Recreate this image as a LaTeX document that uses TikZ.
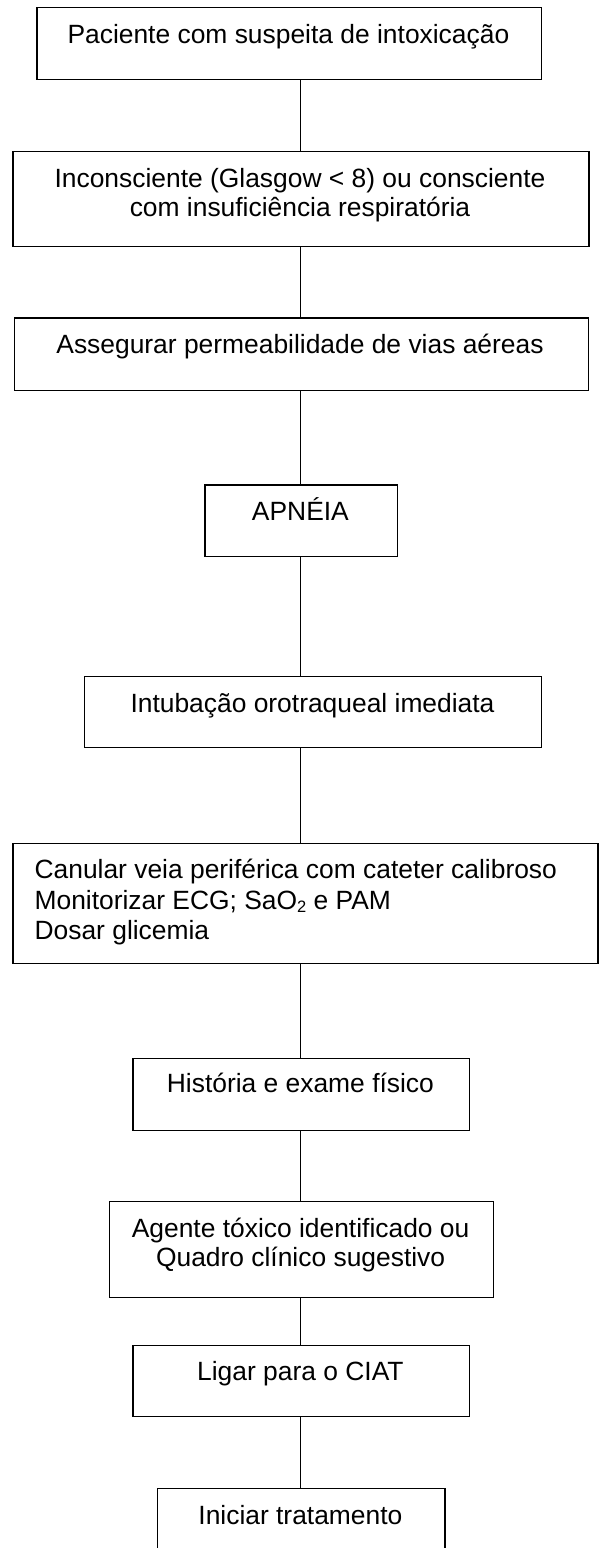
\documentclass[tikz,border=0pt]{standalone}
\usepackage{fontspec}
\setmainfont{Liberation Sans}
\begin{document}
\begin{tikzpicture}[x=1pt,y=-1pt,
  boxst/.style={draw=black, line width=1.3pt, rectangle, inner sep=0pt, anchor=north west},
  txt/.style={inner sep=0pt, anchor=base, font=\fontsize{26.4}{30.4}\selectfont},
  txtl/.style={txt, anchor=base west},
  link/.style={draw=black, line width=1.3pt}]
\useasboundingbox[fill=white] (0,0) rectangle (599,1548);
\coordinate (spine) at (300.6,0);
% boxes
\node[boxst, minimum width=504.2pt, minimum height=72pt]   (b1)  at (36.3,6.7)   {};
\node[boxst, minimum width=575.8pt, minimum height=95.5pt] (b2)  at (12.4,150.5) {};
\node[boxst, minimum width=574pt,   minimum height=72.2pt] (b3)  at (13.5,317.3) {};
\node[boxst, minimum width=192.1pt, minimum height=71.8pt] (b4)  at (204.4,484.3) {};
\node[boxst, minimum width=457pt,   minimum height=70.5pt] (b5)  at (84,676)     {};
\node[boxst, minimum width=585pt,   minimum height=120pt]  (b6)  at (12.3,842.5) {};
\node[boxst, minimum width=336.5pt, minimum height=72pt]   (b7)  at (132.2,1058) {};
\node[boxst, minimum width=384.2pt, minimum height=96pt]   (b8)  at (108.5,1201) {};
\node[boxst, minimum width=336.5pt, minimum height=71pt]   (b9)  at (132.2,1344.5) {};
\node[boxst, minimum width=287.6pt, minimum height=80pt]   (b10) at (156.6,1488) {};
% texts
\node[txt] (t1)  at (288.4,43)   {Paciente com suspeita de intoxicação};
\node[txt] (t2a) at (300,187)    {Inconsciente (Glasgow < 8) ou consciente};
\node[txt] (t2b) at (300,216.5)  {com insuficiência respiratória};
\node[txt] (t3)  at (300,353.5)  {Assegurar permeabilidade de vias aéreas};
\node[txt] (t4)  at (300.4,520.5){APNÉIA};
\node[txt] (t5)  at (312.5,712)  {Intubação orotraqueal imediata};
\node[txtl] (t6a) at (34.4,878.5) {Canular veia periférica com cateter calibroso};
\node[txtl] (t6b) at (34.4,909)   {Monitorizar ECG; SaO\raisebox{-0.12em}{\fontsize{16.5}{18}\selectfont 2} e PAM};
\node[txtl] (t6c) at (34.4,939)   {Dosar glicemia};
\node[txt] (t7)  at (300.4,1092.5) {História e exame físico};
\node[txt] (t8a) at (300.6,1237)   {Agente tóxico identificado ou};
\node[txt] (t8b) at (300.6,1266.5) {Quadro clínico sugestivo};
\node[txt] (t9)  at (300.4,1380)   {Ligar para o CIAT};
\node[txt] (t10) at (300.4,1524)   {Iniciar tratamento};
% connectors
\draw[link] (b1.south -| spine) -- (b2.north -| spine);
\draw[link] (b2.south -| spine) -- (b3.north -| spine);
\draw[link] (b3.south -| spine) -- (b4.north -| spine);
\draw[link] (b4.south -| spine) -- (b5.north -| spine);
\draw[link] (b5.south -| spine) -- (b6.north -| spine);
\draw[link] (b6.south -| spine) -- (b7.north -| spine);
\draw[link] (b7.south -| spine) -- (b8.north -| spine);
\draw[link] (b8.south -| spine) -- (b9.north -| spine);
\draw[link] (b9.south -| spine) -- (b10.north -| spine);
\end{tikzpicture}
\end{document}
